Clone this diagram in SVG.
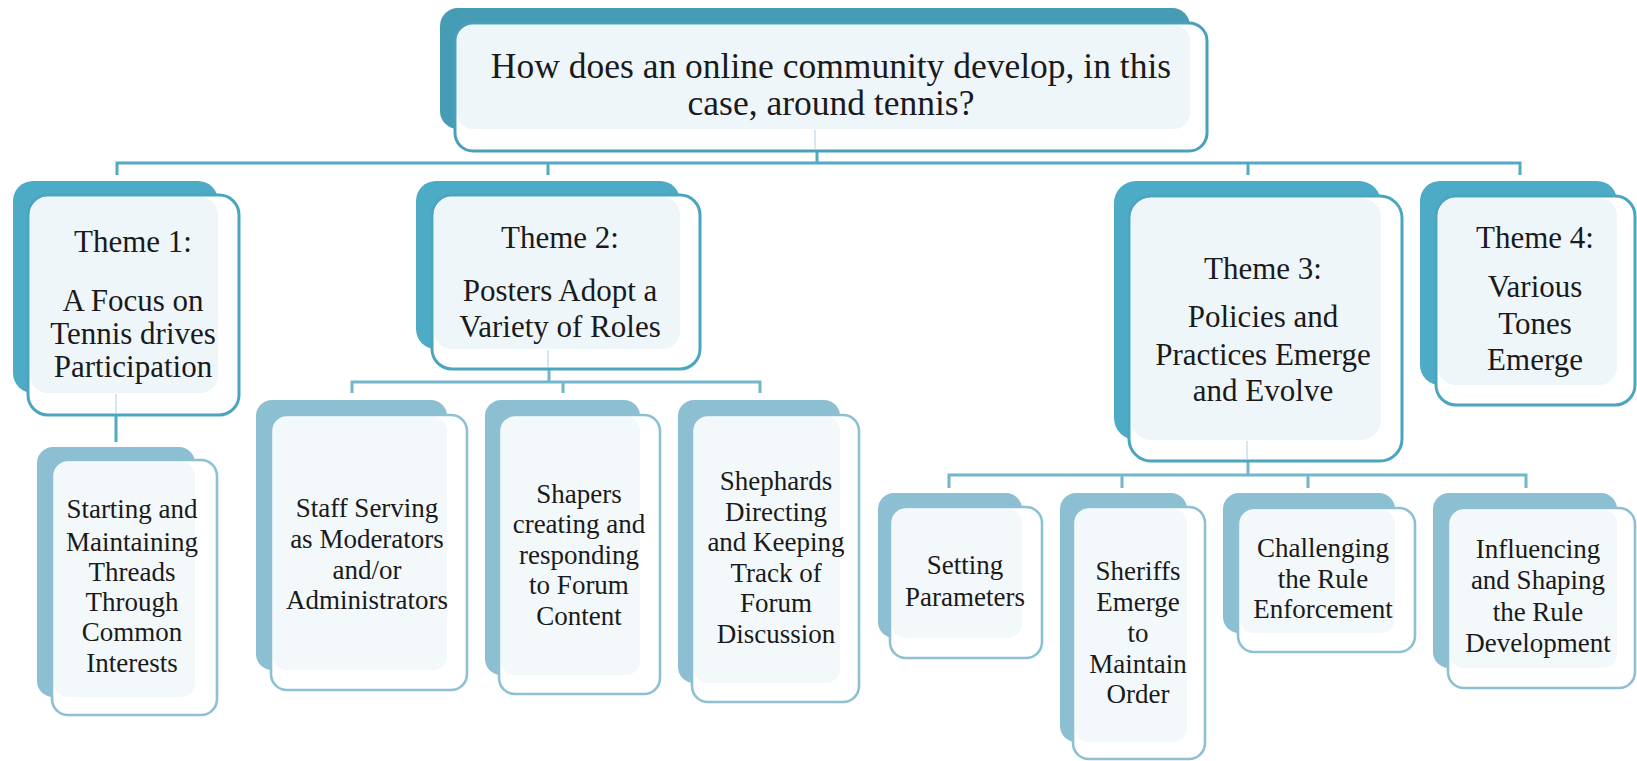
<svg xmlns="http://www.w3.org/2000/svg" width="1637" height="761" viewBox="0 0 1637 761">
<style>
.bg{fill:#ffffff}
.kb{fill:#479cb5}
.tb{fill:#4eabc6}
.tf{fill:#ffffff;stroke:#4aa5c0;stroke-width:3}
.tl{fill:#eef6fa}
.lb{fill:#8bbfd1}
.lf{fill:#ffffff;stroke:#8cc0d2;stroke-width:2.6}
.ll{fill:#f3f8fb}
.c1{fill:none;stroke:#53a9c4;stroke-width:3}
.c2{fill:none;stroke:#74b6cb;stroke-width:3}
.fa{fill:none;stroke:#d6e8ef;stroke-width:2}
text{font-family:"Liberation Serif","Times New Roman",serif;fill:#1a1a1a;text-anchor:middle}
.t0{font-size:35.5px}
.t1{font-size:31px}
.t2{font-size:27px}
</style>
<rect class="bg" x="0" y="0" width="1637" height="761"/>
<g id="connectors">
<path class="c1" d="M817,151 V163 M117,175 V163 H1520 V175 M548,163 V175 M1248,163 V175"/>
<path class="c1" d="M116,415 V442"/>
<path class="c2" d="M549,369 V382 M352,393 V382 H760 V393 M563,382 V393"/>
<path class="c2" d="M1248,461 V475 M949,488 V475 H1526 V488 M1122,475 V488 M1308,475 V488"/>
</g>
<g id="root">
<rect class="kb" x="440" y="8" width="750" height="121" rx="18"/>
<rect class="tf" x="455" y="23" width="752" height="128" rx="18" style="stroke:#4a9fb9"/>
<rect class="tl" x="457" y="25" width="733" height="104" rx="16"/>
<line class="fa" x1="815" y1="130" x2="815" y2="149"/>
<text class="t0" x="831" y="78">How does an online community develop, in this</text>
<text class="t0" x="831" y="115">case, around tennis?</text>
</g>
<g id="theme1">
<rect class="tb" x="13" y="181" width="205" height="212" rx="20"/>
<rect class="tf" x="28" y="195" width="211" height="220" rx="20"/>
<rect class="tl" x="30" y="197" width="188" height="196" rx="18"/>
<line class="fa" x1="116" y1="394" x2="116" y2="413"/>
<text class="t1" x="133" y="252">Theme 1:</text>
<text class="t1" x="133" y="311">A Focus on</text>
<text class="t1" x="133" y="344">Tennis drives</text>
<text class="t1" x="133" y="377">Participation</text>
</g>
<g id="theme2">
<rect class="tb" x="416" y="181" width="264" height="168" rx="20"/>
<rect class="tf" x="432" y="195" width="268" height="174" rx="20"/>
<rect class="tl" x="434" y="197" width="246" height="152" rx="18"/>
<line class="fa" x1="548" y1="350" x2="548" y2="367"/>
<text class="t1" x="560" y="248">Theme 2:</text>
<text class="t1" x="560" y="301">Posters Adopt a</text>
<text class="t1" x="560" y="337">Variety of Roles</text>
</g>
<g id="theme3">
<rect class="tb" x="1114" y="181" width="267" height="259" rx="22"/>
<rect class="tf" x="1129" y="196" width="273" height="265" rx="22"/>
<rect class="tl" x="1131" y="198" width="250" height="242" rx="20"/>
<line class="fa" x1="1247" y1="441" x2="1247" y2="459"/>
<text class="t1" x="1263" y="279">Theme 3:</text>
<text class="t1" x="1263" y="327">Policies and</text>
<text class="t1" x="1263" y="365">Practices Emerge</text>
<text class="t1" x="1263" y="401">and Evolve</text>
</g>
<g id="theme4">
<rect class="tb" x="1420" y="181" width="197" height="204" rx="20"/>
<rect class="tf" x="1436" y="196" width="199" height="209" rx="20"/>
<rect class="tl" x="1438" y="198" width="179" height="187" rx="18"/>
<text class="t1" x="1535" y="248">Theme 4:</text>
<text class="t1" x="1535" y="297">Various</text>
<text class="t1" x="1535" y="334">Tones</text>
<text class="t1" x="1535" y="370">Emerge</text>
</g>
<g id="leaf-threads">
<rect class="lb" x="37" y="447" width="158" height="250" rx="16"/>
<rect class="lf" x="52" y="460" width="165" height="255" rx="16"/>
<rect class="ll" x="54" y="462" width="141" height="235" rx="14"/>
<text class="t2" x="132" y="518">Starting and</text>
<text class="t2" x="132" y="551">Maintaining</text>
<text class="t2" x="132" y="581">Threads</text>
<text class="t2" x="132" y="611">Through</text>
<text class="t2" x="132" y="641">Common</text>
<text class="t2" x="132" y="672">Interests</text>
</g>
<g id="leaf-staff">
<rect class="lb" x="256" y="400" width="191" height="270" rx="16"/>
<rect class="lf" x="271" y="415" width="196" height="275" rx="16"/>
<rect class="ll" x="273" y="417" width="174" height="253" rx="14"/>
<text class="t2" x="367" y="517">Staff Serving</text>
<text class="t2" x="367" y="548">as Moderators</text>
<text class="t2" x="367" y="579">and/or</text>
<text class="t2" x="367" y="609">Administrators</text>
</g>
<g id="leaf-shapers">
<rect class="lb" x="485" y="400" width="155" height="275" rx="16"/>
<rect class="lf" x="499" y="415" width="161" height="279" rx="16"/>
<rect class="ll" x="501" y="417" width="139" height="258" rx="14"/>
<text class="t2" x="579" y="503">Shapers</text>
<text class="t2" x="579" y="533">creating and</text>
<text class="t2" x="579" y="563.5">responding</text>
<text class="t2" x="579" y="594">to Forum</text>
<text class="t2" x="579" y="624.5">Content</text>
</g>
<g id="leaf-shephards">
<rect class="lb" x="678" y="400" width="162" height="283" rx="16"/>
<rect class="lf" x="692" y="415" width="167" height="287" rx="16"/>
<rect class="ll" x="694" y="417" width="146" height="266" rx="14"/>
<text class="t2" x="776" y="490">Shephards</text>
<text class="t2" x="776" y="520.6">Directing</text>
<text class="t2" x="776" y="551.2">and Keeping</text>
<text class="t2" x="776" y="581.8">Track of</text>
<text class="t2" x="776" y="612.4">Forum</text>
<text class="t2" x="776" y="643">Discussion</text>
</g>
<g id="leaf-setting">
<rect class="lb" x="878" y="493" width="144" height="145" rx="16"/>
<rect class="lf" x="890" y="507" width="152" height="151" rx="16"/>
<rect class="ll" x="892" y="509" width="130" height="129" rx="14"/>
<text class="t2" x="965" y="574">Setting</text>
<text class="t2" x="965" y="606">Parameters</text>
</g>
<g id="leaf-sheriffs">
<rect class="lb" x="1060" y="493" width="127" height="249" rx="16"/>
<rect class="lf" x="1073" y="507" width="132" height="252" rx="16"/>
<rect class="ll" x="1075" y="509" width="112" height="233" rx="14"/>
<text class="t2" x="1138" y="580">Sheriffs</text>
<text class="t2" x="1138" y="611">Emerge</text>
<text class="t2" x="1138" y="642">to</text>
<text class="t2" x="1138" y="673">Maintain</text>
<text class="t2" x="1138" y="703">Order</text>
</g>
<g id="leaf-challenging">
<rect class="lb" x="1223" y="493" width="172" height="140" rx="16"/>
<rect class="lf" x="1238" y="508" width="177" height="144" rx="16"/>
<rect class="ll" x="1240" y="510" width="155" height="123" rx="14"/>
<text class="t2" x="1323" y="557">Challenging</text>
<text class="t2" x="1323" y="587.5">the Rule</text>
<text class="t2" x="1323" y="618">Enforcement</text>
</g>
<g id="leaf-influencing">
<rect class="lb" x="1433" y="493" width="184" height="175" rx="16"/>
<rect class="lf" x="1448" y="508" width="187" height="180" rx="16"/>
<rect class="ll" x="1450" y="510" width="167" height="158" rx="14"/>
<text class="t2" x="1538" y="558">Influencing</text>
<text class="t2" x="1538" y="589">and Shaping</text>
<text class="t2" x="1538" y="620.5">the Rule</text>
<text class="t2" x="1538" y="652">Development</text>
</g>
</svg>
